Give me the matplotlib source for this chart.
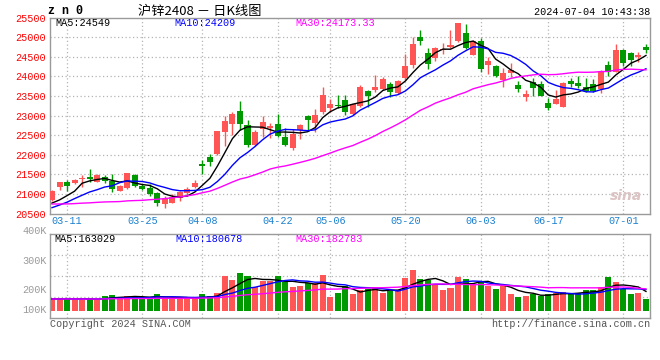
"""
Daily K-line chart for SHFE zinc 2408 (zn0), Sina finance style.
Output: out.png (660x360)
"""

import numpy as np
import pandas as pd
import matplotlib
matplotlib.use('Agg')
import matplotlib.pyplot as plt

W, H = 660, 360

# ---- data -------------------------------------------------------------
dates = ['03-07', '03-08',
         '03-11', '03-12', '03-13', '03-14', '03-15',
         '03-18', '03-19', '03-20', '03-21', '03-22',
         '03-25', '03-26', '03-27', '03-28', '03-29',
         '04-01', '04-02', '04-03',
         '04-08', '04-09', '04-10', '04-11', '04-12',
         '04-15', '04-16', '04-17', '04-18', '04-19',
         '04-22', '04-23', '04-24', '04-25', '04-26',
         '04-29', '04-30',
         '05-06', '05-07', '05-08', '05-09', '05-10',
         '05-13', '05-14', '05-15', '05-16', '05-17',
         '05-20', '05-21', '05-22', '05-23', '05-24',
         '05-27', '05-28', '05-29', '05-30', '05-31',
         '06-03', '06-04', '06-05', '06-06', '06-07',
         '06-11', '06-12', '06-13', '06-14',
         '06-17', '06-18', '06-19', '06-20', '06-21',
         '06-24', '06-25', '06-26', '06-27', '06-28',
         '07-01', '07-02', '07-03', '07-04']

open_ = [20845, 21180, 21304, 21279, 21390, 21432, 21313, 21432, 21330, 21083,
         21160, 21483, 21194, 21160, 21023, 20734, 20776, 20887, 21015, 21185,
         21772, 21943, 22020, 22590, 22794, 23118, 22760, 22250, 22667, 22692,
         22786, 22454, 22164, 22624, 22990, 22803, 23101, 23203, 23271, 23395,
         23033, 23237, 23629, 23646, 23680, 23799, 23586, 23953, 24293, 25017,
         24600, 24463, 24668, 24744, 24914, 25119, 24557, 24906, 24293, 24268,
         23918, 24080, 23782, 23467, 23850, 23808, 23314, 23305, 23229, 23893,
         23833, 23723, 23808, 23680, 24293, 24106, 24676, 24591, 24497, 24752]
close = [21083, 21300, 21202, 21364, 21415, 21381, 21483, 21330, 21117, 21202,
         21534, 21211, 21134, 20998, 20776, 20870, 20930, 21040, 21126, 21279,
         21725, 21824, 22607, 22862, 23050, 22794, 22258, 22582, 22837, 22735,
         22488, 22258, 22539, 22760, 22897, 23016, 23526, 23297, 23246, 23101,
         23288, 23731, 23510, 23740, 23936, 23595, 23884, 24259, 24821, 24914,
         24327, 24719, 24710, 24804, 25374, 24719, 24906, 24182, 24395, 24016,
         24089, 24165, 23689, 23552, 23697, 23510, 23186, 23425, 23825, 23816,
         23757, 23637, 23637, 24140, 24106, 24676, 24352, 24421, 24548, 24684]
high = [21090, 21305, 21355, 21381, 21483, 21645, 21509, 21483, 21509, 21219,
        21534, 21500, 21262, 21253, 21057, 20947, 20989, 21083, 21185, 21355,
        21870, 22011, 22607, 22990, 23101, 23382, 22888, 22624, 22990, 22820,
        23033, 22675, 22650, 22786, 23016, 23160, 23722, 23424, 23526, 23527,
        23306, 23782, 23663, 24038, 23995, 23867, 23910, 24565, 25017, 25195,
        24719, 24761, 24855, 25187, 25374, 25340, 24931, 24991, 24506, 24293,
        24208, 24335, 23884, 23654, 23952, 23884, 23442, 23654, 23850, 23969,
        24020, 23969, 23935, 24165, 24395, 24829, 24701, 24616, 24616, 24829]
low = [20830, 21100, 21083, 21262, 21185, 21296, 21296, 21270, 21057, 21074,
       21117, 21177, 21100, 20955, 20691, 20649, 20776, 20819, 20955, 21143,
       21500, 21722, 21994, 22232, 22505, 22624, 22207, 22224, 22462, 22420,
       22462, 22232, 22130, 22394, 22607, 22573, 23041, 23101, 23186, 23016,
       23016, 23220, 23229, 23612, 23655, 23476, 23561, 23910, 24208, 24804,
       24191, 24404, 24566, 24719, 24889, 24693, 24549, 24123, 24063, 23995,
       23740, 23995, 23612, 23382, 23501, 23501, 23144, 23297, 23229, 23740,
       23697, 23595, 23603, 23569, 24012, 24106, 24276, 24276, 24361, 24591]
# volume in thousands of lots
volume = [104, 104, 107, 90, 90, 107, 90, 124, 132, 107,
          124, 112, 112, 112, 138, 104, 104, 104, 104, 101,
          140, 124, 149, 292, 258, 317, 292, 196, 252, 252,
          292, 238, 202, 208, 230, 233, 300, 112, 149, 208,
          140, 174, 180, 191, 152, 168, 174, 275, 342, 266,
          258, 213, 174, 191, 283, 266, 224, 252, 208, 182,
          208, 140, 115, 126, 143, 126, 140, 152, 157, 138,
          149, 174, 174, 199, 283, 241, 182, 140, 149, 98]

# sessions before the visible window (only feed the moving averages)
prev_close = [21250, 21180, 21120, 21060, 21150, 21100, 21020, 20980, 21050, 21010,
              20960, 20973, 20500, 20420, 20380, 20300, 20350, 20320, 20347, 20300,
              20620, 20480, 20450, 20560, 20547, 20900, 20650, 20800, 20400]
prev_volume = [96, 102, 88, 110, 94, 99, 105, 92, 97, 101, 90, 108, 95, 100, 93,
               104, 98, 91, 106, 97, 99, 94, 103, 92, 100, 96, 95, 101, 93]

ma_windows = [5, 10, 30]
ma_colors = ['#000000', '#0000ff', '#ff00ff']
price_ma_text = ['MA5:24549', 'MA10:24209', 'MA30:24173.33']
vol_ma_text = ['MA5:163029', 'MA10:180678', 'MA30:182783']
date_ticks = ['03-11', '03-25', '04-08', '04-22', '05-06', '05-20', '06-03', '06-17', '07-01']
vol_labels = ['400K', '300K', '200K', '100K']

UP = '#ff5555'
DOWN = '#009900'
GRID = '#b4b4b4'
FRAME = '#9a9a9a'
MONO = 'Liberation Mono'

n = len(close)
x = np.arange(n)
o = np.array(open_, float)
c = np.array(close, float)
colors = [UP if cc >= oo else DOWN for oo, cc in zip(o, c)]

close_all = pd.Series(prev_close + close, dtype=float)
vol_all = pd.Series(prev_volume + volume, dtype=float)
price_ma = [close_all.rolling(w).mean().to_numpy()[-n:] for w in ma_windows]
vol_ma = [vol_all.rolling(w).mean().to_numpy()[-n:] for w in ma_windows]

fig = plt.figure(figsize=(W / 100, H / 100), dpi=100)
fig.patch.set_facecolor('white')


def px_axes(left, top, right, bottom):
    return fig.add_axes([left / W, 1 - bottom / H, (right - left) / W, (bottom - top) / H])


def fy(py):
    return 1 - py / H


x_lo = -0.27
x_hi = 79.47
tick_idx = [dates.index(d) for d in date_ticks]

# ---- price panel --------------------------------------------------------
ax = px_axes(50, 17.7, 649.5, 213.5)
ax.set_xlim(x_lo, x_hi)
ax.set_ylim(20500, 25500)
for lvl in range(21000, 25500, 500):
    ax.axhline(lvl, color=GRID, lw=0.9, ls=(0, (1, 2)), zorder=0)
for t in tick_idx:
    ax.axvline(t, color=GRID, lw=0.9, ls=(0, (1, 2)), zorder=0)

ax.vlines(x, low, high, colors=colors, lw=1, zorder=2)
body = np.maximum(np.abs(c - o), 18)
ax.bar(x, body, bottom=np.minimum(o, c), width=0.8, color=colors, linewidth=0, zorder=3)
for ma, col in zip(price_ma, ma_colors):
    ax.plot(x, ma, color=col, lw=1, zorder=4)

ax.set_yticks(range(20500, 25501, 500))
ax.tick_params(axis='y', length=0, pad=3, labelcolor='#ff0000', labelsize=7.3)
ax.set_yticklabels([str(v) for v in range(20500, 25501, 500)], family=MONO)
ax.set_xticks(tick_idx)
ax.set_xticklabels(date_ticks, family=MONO, fontsize=7.3, color='#1a80d0')
ax.tick_params(axis='x', length=0, pad=2)
for s in ax.spines.values():
    s.set_color(FRAME)
    s.set_linewidth(1)

for txt, col, px in zip(price_ma_text, ma_colors, [55, 174, 295]):
    fig.text(px / W, fy(23.5), txt, color=col, family=MONO, fontsize=7.3, va='center')

fig.text(626 / W, fy(196), 'sina', color='#dcc4c4', fontsize=10, fontweight='bold',
         style='italic', va='center', ha='center')

# ---- volume panel -------------------------------------------------------
vax = px_axes(50, 234.3, 649.5, 317.7)
base_px, k = 310.7, 0.119          # pixel row of zero volume, px per thousand lots
vax.set_xlim(x_lo, x_hi)
vax.set_ylim(-(317.7 - base_px) / k, (base_px - 234.3) / k)
lo, hi = vax.get_ylim()
for f in (0.25, 0.5, 0.75):
    vax.axhline(lo + f * (hi - lo), color=GRID, lw=0.9, ls=(0, (1, 2)), zorder=0)
for t in tick_idx:
    vax.axvline(t, color=GRID, lw=0.9, ls=(0, (1, 2)), zorder=0)
vax.bar(x, volume, width=0.8, color=colors, linewidth=0, zorder=2)
for ma, col in zip(vol_ma, ma_colors):
    vax.plot(x, ma, color=col, lw=1, zorder=3)
vax.set_xticks([])
vax.set_yticks([])
for s in vax.spines.values():
    s.set_color(FRAME)
    s.set_linewidth(1)

for txt, col, px in zip(vol_ma_text, ma_colors, [54, 175, 295]):
    fig.text(px / W, fy(238.5), txt, color=col, family=MONO, fontsize=7.3, va='center')
for lab, py in zip(vol_labels, [231, 261, 290, 310]):
    fig.text(47 / W, fy(py), lab, color='#9a9a9a', family=MONO, fontsize=7.3,
             ha='right', va='center')

# ---- header / footer ----------------------------------------------------
fig.text(48 / W, fy(11.5), 'z n 0', family=MONO, fontweight='bold', fontsize=8.5, va='center')
fig.text(200 / W, fy(11), '沪锌2408 － 日K线图', family=['Noto Sans CJK SC', 'DejaVu Sans'],
         fontsize=9.5, ha='center', va='center')
fig.text(650 / W, fy(12.3), '2024-07-04 10:43:38', family=MONO, fontsize=7.3,
         ha='right', va='center')
fig.text(50 / W, fy(324), 'Copyright 2024 SINA.COM', family=MONO, fontsize=7.3,
         color='#555555', va='center')
fig.text(650 / W, fy(324), 'http://finance.sina.com.cn', family=MONO, fontsize=7.3,
         color='#555555', ha='right', va='center')

fig.savefig('out.png', dpi=100)
plt.close(fig)
